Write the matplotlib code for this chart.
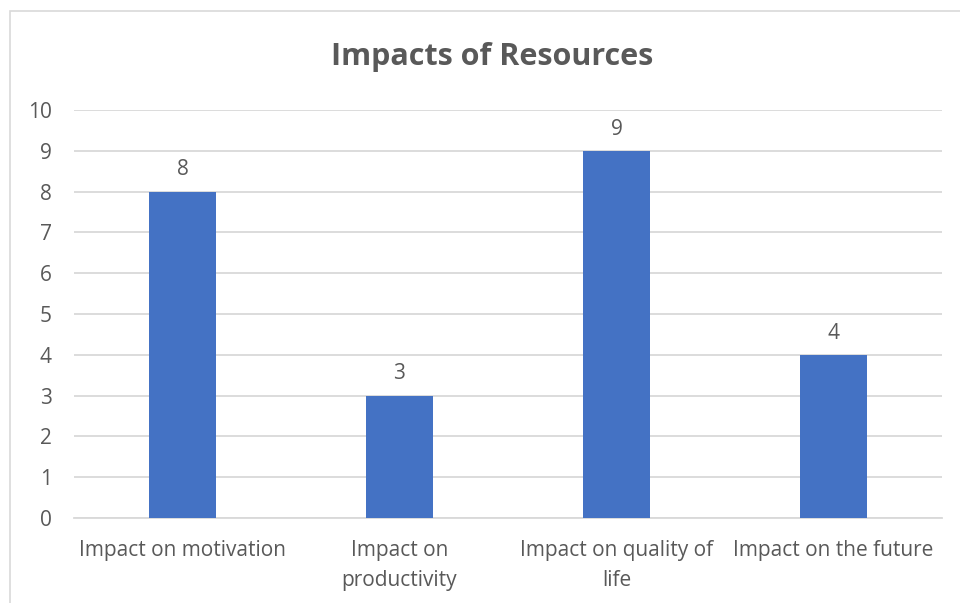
import matplotlib
matplotlib.use('Agg')
import matplotlib.pyplot as plt
from matplotlib.patches import Rectangle
import numpy as np

plt.rcParams['font.family'] = ['Open Sans', 'DejaVu Sans']

categories = ['Impact on motivation', 'Impact on\nproductivity',
              'Impact on quality of\nlife', 'Impact on the future']
values = [8, 3, 9, 4]
y_ticks = list(range(0, 11))

BAR_COLOR = '#4472C4'
TEXT_COLOR = '#595959'
GRID_COLOR = '#D9D9D9'

W, H = 960, 603
fig = plt.figure(figsize=(W / 100, H / 100), dpi=100)

# chart frame (runs off the right and bottom edges)
fig.add_artist(Rectangle((10 / W, -0.1), 1.2, 1 - 11 / H + 0.1,
                         transform=fig.transFigure, fill=False,
                         edgecolor=GRID_COLOR, linewidth=1.2))

ax = fig.add_axes([74 / W, 1 - 518 / H, (942 - 74) / W, (518 - 110) / H])

x = np.arange(len(categories))
ax.bar(x, values, width=0.313, color=BAR_COLOR, zorder=3)
for xi, v in zip(x, values):
    ax.annotate(str(v), (xi, v), xytext=(0, 8), textcoords='offset points',
                ha='center', va='bottom', fontsize=15, color=TEXT_COLOR)

ax.set_xlim(-0.5, len(categories) - 0.5)
ax.set_ylim(0, 10)
ax.set_yticks(y_ticks)
ax.set_xticks(x)
ax.set_xticklabels(categories, linespacing=1.55)
ax.tick_params(axis='both', length=0, labelsize=15, labelcolor=TEXT_COLOR)
ax.tick_params(axis='y', pad=16)
ax.tick_params(axis='x', pad=16)
for lbl in ax.get_yticklabels():
    lbl.set_horizontalalignment('right')

ax.grid(axis='y', color=GRID_COLOR, linewidth=1.3, zorder=0)
for side in ['top', 'right', 'left']:
    ax.spines[side].set_visible(False)
ax.spines['bottom'].set_color(GRID_COLOR)
ax.spines['bottom'].set_linewidth(1.3)

fig.text(492 / W, 1 - 57 / H, 'Impacts of Resources', ha='center', va='center',
         fontsize=22, fontweight='bold', color=TEXT_COLOR)

fig.savefig('out.png', dpi=100)
